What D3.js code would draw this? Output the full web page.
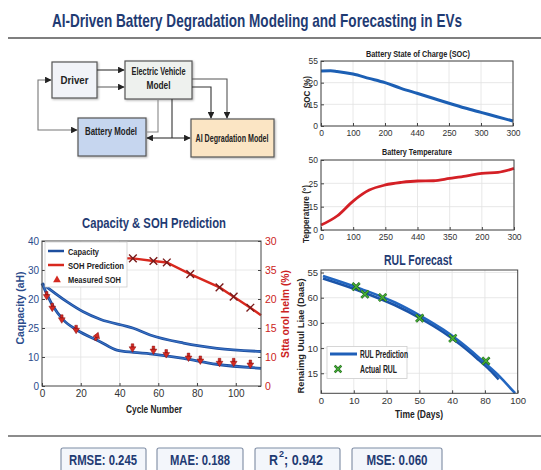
<!DOCTYPE html>
<html><head><meta charset="utf-8">
<script src="https://cdn.jsdelivr.net/npm/d3@7"></script>
<style>body{margin:0;background:#fff}svg{display:block;font-family:"Liberation Sans",Arial,sans-serif}</style>
</head><body><svg id="c" width="541" height="470"></svg>
<script>
// ---------- DATA ----------
const titleText = "AI-Driven Battery Degradation Modeling and Forecasting in EVs";

const socDays   = [0,15,25,50,75,100,125,150,175,200,225,250,275,300];
const socValues = [25.4,25.5,25.2,24.0,22.0,20.0,17.4,15.1,12.8,10.5,8.3,6.3,4.3,2.3];
const socXTicks = ["0","100","200","440","250","300","300"];
const socYTicks = ["0","15","20","55"];

const tempDays   = [0,25,50,75,100,125,150,175,200,225,250,275,300];
const tempValues = [2.1,6.0,12.4,17.1,19.3,20.4,21.0,21.1,22.1,23.1,24.3,24.7,26.4];
const tempXTicks = ["0","100","250","440","350","200","300"];
const tempYTicks = ["0","15","25","50"];

const capUpperCycles = [0,12.8,21.3,30,47.2,55.8,73,90.3,113];
const capUpper       = [35.4,29.1,25.6,23.0,19.9,17.6,14.8,13.0,11.9];
const capLowerCycles = [0,5.8,11,18,30,38.6,47.2,55.8,73,90,113];
const capLower       = [35.4,27.4,22.8,19.3,15.3,12.4,11.6,11.1,9.5,7.5,6.1];
const sohPredCycles  = [42,46.9,57.5,64.4,76.5,91.6,98.9,107.5,113];
const sohPred        = [22.0,22.0,21.55,21.3,19.3,17.0,15.4,13.5,12.2];
const sohMarkIdx     = [1,2,3,4,5,6,7];
const measCycles     = [2.4,5.3,10.2,17.6,28.3,46.7,57.5,64.1,75.6,81.7,91.6,98.9,107.5];
const measSOH        = [15.5,13.5,11.5,9.7,8.6,6.5,6.1,5.5,4.9,4.4,4.0,4.0,3.7];
const capXTicks = ["0","20","40","60","80","100"];
const capLTicks = ["0","10","25","20","30","40"];
const capRTicks = ["0","10","15","20","35","30"];

const rulDays1 = [0.6,12.4,22.6,30.2,37.3,42.4,47.5,51.6,54.6,58.2,59.2];
const rulPred1 = [48.6,43.4,38.1,32.9,27.3,22.5,17.0,12.2,8.6,3.5,2.1];
const rulDays2 = [0.6,12.4,22.6,30.2,37.3,42.4,47.5,51.6,54.2];
const rulPred2 = [47.6,42.4,37.0,31.9,26.3,21.5,16.0,11.2,7.6];
const rulActDays = [10.7,13.4,18.8,30.1,40.2,50.3];
const rulActual  = [44.4,41.4,40.1,31.9,23.9,14.9];
const rulXTicks = ["0","10","20","50","40","80","100"];
const rulYTicks = ["15","10","30","60","55"];

const metricNames  = ["RMSE","MAE","R2","MSE"];
const metricValues = ["0.245","0.188","0.942","0.060"];

// ---------- DRAW ----------
const svg = d3.select("#c");
svg.append("rect").attr("width",541).attr("height",470).attr("fill","#fff");
const NAVY = "#1f3b73";

function txt(x,y,s,o={}){
  const t = svg.append("text").attr("x",x).attr("y",y).text(s)
    .attr("text-anchor",o.anchor||"middle")
    .style("font-size",(o.size||10)+"px").style("font-weight",o.weight||"bold")
    .attr("fill",o.fill||"#222");
  if(o.len){t.attr("textLength",o.len).attr("lengthAdjust","spacingAndGlyphs");}
  if(o.rot){t.attr("transform",`rotate(${o.rot},${x},${y})`);}
  return t;
}

// title + rules
txt(257,22,titleText,{size:15,fill:NAVY,len:410})
  .attr("transform","translate(0,27) scale(1,1.2) translate(0,-22)");
svg.append("line").attr("x1",8).attr("x2",541).attr("y1",38).attr("y2",38).attr("stroke","#555").attr("stroke-width",1.6);
svg.append("line").attr("x1",8).attr("x2",541).attr("y1",436).attr("y2",436).attr("stroke","#666").attr("stroke-width",1.6);

// ---------- Diagram ----------
const defs = svg.append("defs");
defs.append("marker").attr("id","arr").attr("viewBox","0 0 10 10").attr("refX",9).attr("refY",5)
  .attr("markerWidth",6).attr("markerHeight",6).attr("orient","auto-start-reverse")
  .append("path").attr("d","M0,0 L10,5 L0,10 z").attr("fill","#222");
defs.append("filter").attr("id","sh").append("feDropShadow").attr("dx",1).attr("dy",1).attr("stdDeviation",0.8).attr("flood-opacity",0.3);

function box(x,y,w,h,fill){svg.append("rect").attr("x",x).attr("y",y).attr("width",w).attr("height",h)
  .attr("fill",fill).attr("stroke","#555").attr("stroke-width",1.2).attr("filter","url(#sh)");}
box(52,62,45,36,"#f1f3f8");
box(125,61,67,38,"#eef1ee");
box(78,118,68,38,"#c6d6ef");
box(191,119,83,38,"#fbe5c4");
txt(74.5,84,"Driver",{size:10.5,len:28});
txt(158.5,75,"Electric Vehicle",{size:10,len:54});
txt(158.5,89,"Model",{size:10,len:24});
txt(111,135,"Battery Model",{size:10.5,len:52});
txt(232,142,"AI Degradation Model",{size:10,len:73});

function wire(d,arrow,col){const p=svg.append("path").attr("d",d).attr("fill","none")
  .attr("stroke",col||"#333").attr("stroke-width",1.1); if(arrow)p.attr("marker-end","url(#arr)");}
wire("M97,70 H124",true);
wire("M97,87 H124",true,"#666");
wire("M38,105 V80 H51",true,"#777");
wire("M38,105 V130 H77",true,"#777");
wire("M192,79 H227 V118",true,"#555");
wire("M192,87 H211 V118",true);
wire("M172,99 V138",false);
wire("M172,138 H147",true);
wire("M172,138 H190",true);
wire("M146,132 H158 V99",false,"#888");

// ---------- helpers ----------
function styleAxis(g,col,size){
  g.select(".domain").remove();
  g.selectAll(".tick line").attr("stroke","#444");
  g.selectAll(".tick text").attr("fill",col).style("font-size",size+"px").style("font-family","'Liberation Sans',Arial,sans-serif");
}
function frame(x0,y0,x1,y1){svg.append("rect").attr("x",x0).attr("y",y0).attr("width",x1-x0).attr("height",y1-y0)
  .attr("fill","none").attr("stroke","#444").attr("stroke-width",1);}
function grid(xs,ys,xv,yv){
  const [y0,y1]=ys.range(), [x0,x1]=xs.range();
  xv.forEach(v=>svg.append("line").attr("x1",xs(v)).attr("x2",xs(v)).attr("y1",y0).attr("y2",y1).attr("stroke","#e2e2e2").attr("stroke-width",0.8));
  yv.forEach(v=>svg.append("line").attr("y1",ys(v)).attr("y2",ys(v)).attr("x1",x0).attr("x2",x1).attr("stroke","#e2e2e2").attr("stroke-width",0.8));
}

// ---------- SOC ----------
{
  const x=d3.scaleLinear().domain([0,300]).range([321,513]);
  const y=d3.scaleLinear().domain([0,30]).range([126,61]);
  const xv=d3.range(0,301,50), yv=[0,10,20,30];
  grid(x,y,xv,yv);
  const ln=d3.line().x((d,i)=>x(socDays[i])).y(d=>y(d)).curve(d3.curveMonotoneX);
  svg.append("path").attr("d",ln(socValues)).attr("fill","none").attr("stroke","#1c5fb4").attr("stroke-width",3);
  frame(321,61,513,126);
  styleAxis(svg.append("g").attr("transform","translate(0,126)").call(d3.axisBottom(x).tickValues(xv).tickFormat((d,i)=>socXTicks[i]).tickSize(-3).tickPadding(4)),"#333",8.5);
  styleAxis(svg.append("g").attr("transform","translate(321,0)").call(d3.axisLeft(y).tickValues(yv).tickFormat((d,i)=>socYTicks[i]).tickSize(-3).tickPadding(3)),"#333",8.5);
  txt(418,57,"Battery State of Charge (SOC)",{size:9.5,len:104});
  txt(310,92,"SOC (%)",{size:8.5,rot:-90,len:32});
}

// ---------- Temperature ----------
{
  const x=d3.scaleLinear().domain([0,300]).range([321,514]);
  const y=d3.scaleLinear().domain([0,30]).range([230,160]);
  const xv=d3.range(0,301,50), yv=[0,10,20,30];
  grid(x,y,xv,yv);
  const ln=d3.line().x((d,i)=>x(tempDays[i])).y(d=>y(d)).curve(d3.curveMonotoneX);
  svg.append("path").attr("d",ln(tempValues)).attr("fill","none").attr("stroke","#d42026").attr("stroke-width",2.8);
  frame(321,160,514,230);
  styleAxis(svg.append("g").attr("transform","translate(0,230)").call(d3.axisBottom(x).tickValues(xv).tickFormat((d,i)=>tempXTicks[i]).tickSize(-3).tickPadding(4)),"#333",8.5);
  styleAxis(svg.append("g").attr("transform","translate(321,0)").call(d3.axisLeft(y).tickValues(yv).tickFormat((d,i)=>tempYTicks[i]).tickSize(-3).tickPadding(3)),"#333",8.5);
  txt(417,155,"Battery Temperature",{size:9.5,len:70});
  txt(309,214,"Tepperature (°)",{size:9,rot:-90,len:58});
}

// ---------- Capacity & SOH ----------
{
  const x=d3.scaleLinear().domain([0,113]).range([42,261]);
  const yL=d3.scaleLinear().domain([0,50]).range([386,241]);
  const yR=d3.scaleLinear().domain([0,25]).range([386,241]);
  const xv=[0,20,40,60,80,100], yv=[0,10,20,30,40,50];
  grid(x,yL,xv.slice(1),yv.slice(1,5));
  const lnU=d3.line().x((d,i)=>x(capUpperCycles[i])).y(d=>yL(d)).curve(d3.curveMonotoneX);
  const lnL=d3.line().x((d,i)=>x(capLowerCycles[i])).y(d=>yL(d)).curve(d3.curveMonotoneX);
  [lnU(capUpper),lnL(capLower)].forEach(d=>{
    svg.append("path").attr("d",d).attr("fill","none").attr("stroke","#1d4e9e").attr("stroke-width",2.8);
    svg.append("path").attr("d",d).attr("fill","none").attr("stroke","#3f7bd0").attr("stroke-width",0.9);
  });
  const lnS=d3.line().x((d,i)=>x(sohPredCycles[i])).y(d=>yR(d));
  svg.append("path").attr("d",lnS(sohPred)).attr("fill","none").attr("stroke","#d8281e").attr("stroke-width",2.4);
  sohMarkIdx.forEach(i=>svg.append("path").attr("d",d3.symbol(d3.symbolX,40)()).attr("transform",`translate(${x(sohPredCycles[i])},${yR(sohPred[i])})`)
    .attr("fill","none").attr("stroke","#7a1a1a").attr("stroke-width",1.4));
  const pin="M-3.4,-1.5 L3.4,-1.5 L0,4 Z M-1.3,-4.5 H1.3 V-1.5 H-1.3 Z";
  measCycles.forEach((c,i)=>svg.append("path").attr("d",pin).attr("transform",`translate(${x(c)},${yR(measSOH[i])})${i===4?" rotate(200)":""}`)
    .attr("fill","#d42a22").attr("stroke","#8a1010").attr("stroke-width",0.5));
  frame(42,241,261,386);
  styleAxis(svg.append("g").attr("transform","translate(0,386)").call(d3.axisBottom(x).tickValues(xv).tickFormat((d,i)=>capXTicks[i]).tickSize(-3).tickPadding(4)),"#333",10);
  styleAxis(svg.append("g").attr("transform","translate(42,0)").call(d3.axisLeft(yL).tickValues(yv).tickFormat((d,i)=>capLTicks[i]).tickSize(-3).tickPadding(3)),"#2b4c8c",10);
  styleAxis(svg.append("g").attr("transform","translate(261,0)").call(d3.axisRight(yR).tickValues([0,5,10,15,20,25]).tickFormat((d,i)=>capRTicks[i]).tickSize(-3).tickPadding(4)),"#cc2222",10.5);
  // legend
  svg.append("rect").attr("x",45).attr("y",242).attr("width",82).attr("height",45).attr("fill","#fff").attr("stroke","#ccc").attr("stroke-width",0.8);
  svg.append("line").attr("x1",48).attr("x2",64).attr("y1",251).attr("y2",251).attr("stroke","#1d4e9e").attr("stroke-width",2.5);
  svg.append("line").attr("x1",48).attr("x2",64).attr("y1",265).attr("y2",265).attr("stroke","#d8281e").attr("stroke-width",2.5);
  svg.append("path").attr("d",d3.symbol(d3.symbolTriangle,26)()).attr("transform","translate(57,280)").attr("fill","#d42a22");
  txt(68,254.5,"Capacity",{size:9.5,anchor:"start",len:31});
  txt(68,268.5,"SOH Prediction",{size:9.5,anchor:"start",len:56});
  txt(68,283,"Measured SOH",{size:9.5,anchor:"start",len:53});
  txt(154,228,"Capacity & SOH Prediction",{size:14,fill:NAVY,len:144});
  txt(154,413,"Cycle Number",{size:10,len:56});
  txt(24,308,"Caqpacity (aH)",{size:11,fill:"#2b4c8c",rot:-90,len:73});
  txt(289,314,"Stta orol helm (%)",{size:11,fill:"#cc2222",rot:-90,len:88});
}

// ---------- RUL ----------
{
  const x=d3.scaleLinear().domain([0,60]).range([321,517.7]);
  const y=d3.scaleLinear().domain([2.05,51]).range([393.3,270]);
  const xv=d3.range(0,61,10), yv=[10,20,30,40,50];
  grid(x,y,xv.slice(1,6),yv);
  const ln1=d3.line().x((d,i)=>x(rulDays1[i])).y(d=>y(d)).curve(d3.curveMonotoneX);
  const ln2=d3.line().x((d,i)=>x(rulDays2[i])).y(d=>y(d)).curve(d3.curveMonotoneX);
  svg.append("path").attr("d",ln2(rulPred2)).attr("fill","none").attr("stroke","#1b54a8").attr("stroke-width",2.6);
  svg.append("path").attr("d",ln1(rulPred1)).attr("fill","none").attr("stroke","#2366c0").attr("stroke-width",2.6);
  rulActDays.forEach((d,i)=>{
    const g=svg.append("g").attr("transform",`translate(${x(d)},${y(rulActual[i])})`);
    g.append("path").attr("d",d3.symbol(d3.symbolX,36)()).attr("fill","none").attr("stroke","#1f5a1f").attr("stroke-width",2.6);
    g.append("path").attr("d",d3.symbol(d3.symbolX,36)()).attr("fill","none").attr("stroke","#46b035").attr("stroke-width",1.5);
  });
  frame(321,270,517.7,393.3);
  styleAxis(svg.append("g").attr("transform","translate(0,393.3)").call(d3.axisBottom(x).tickValues(xv).tickFormat((d,i)=>rulXTicks[i]).tickSize(-3).tickPadding(4)),"#333",9.5);
  styleAxis(svg.append("g").attr("transform","translate(321,0)").call(d3.axisLeft(y).tickValues(yv).tickFormat((d,i)=>rulYTicks[i]).tickSize(-3).tickPadding(3)),"#333",9.5);
  // legend
  svg.append("rect").attr("x",327).attr("y",346.5).attr("width",80).attr("height",32).attr("fill","#fff").attr("stroke","#ccc").attr("stroke-width",0.8);
  svg.append("line").attr("x1",330).attr("x2",357).attr("y1",354).attr("y2",354).attr("stroke","#1f5fb8").attr("stroke-width",3);
  const lg=svg.append("g").attr("transform","translate(338,369)");
  lg.append("path").attr("d",d3.symbol(d3.symbolX,30)()).attr("fill","none").attr("stroke","#1f5a1f").attr("stroke-width",2.4);
  lg.append("path").attr("d",d3.symbol(d3.symbolX,30)()).attr("fill","none").attr("stroke","#46b035").attr("stroke-width",1.3);
  txt(360,357.5,"RUL Prediction",{size:10,anchor:"start",len:48});
  txt(360,372.5,"Actual RUL",{size:10,anchor:"start",len:37});
  txt(418,265,"RUL Forecast",{size:14,fill:NAVY,len:68});
  txt(419,418,"Time (Days)",{size:10,len:48});
  txt(304,336,"Renaimg Uuul Liae (Daas)",{size:9.5,rot:-90,len:115});
}

// ---------- Metrics ----------
const boxX=[61,157,255,352], boxW=[85,86,85,90], tx=[103,200,296,397], tl=[68,60,54,61];
metricNames.forEach((n,i)=>{
  svg.append("rect").attr("x",boxX[i]).attr("y",448).attr("width",boxW[i]).attr("height",30).attr("rx",2)
    .attr("fill","#f3f6fb").attr("stroke","#7d8ba3").attr("stroke-width",1.1);
  if(n==="R2"){
    txt(269,465,"R",{size:14,fill:NAVY,anchor:"start",len:9});
    txt(279,457,"2",{size:9,fill:NAVY,anchor:"start",len:5});
    txt(284,465,"; "+metricValues[i],{size:14,fill:NAVY,anchor:"start",len:39});
  } else {
    txt(tx[i],465,n+": "+metricValues[i],{size:14,fill:NAVY,len:tl[i]});
  }
});
</script></body></html>
